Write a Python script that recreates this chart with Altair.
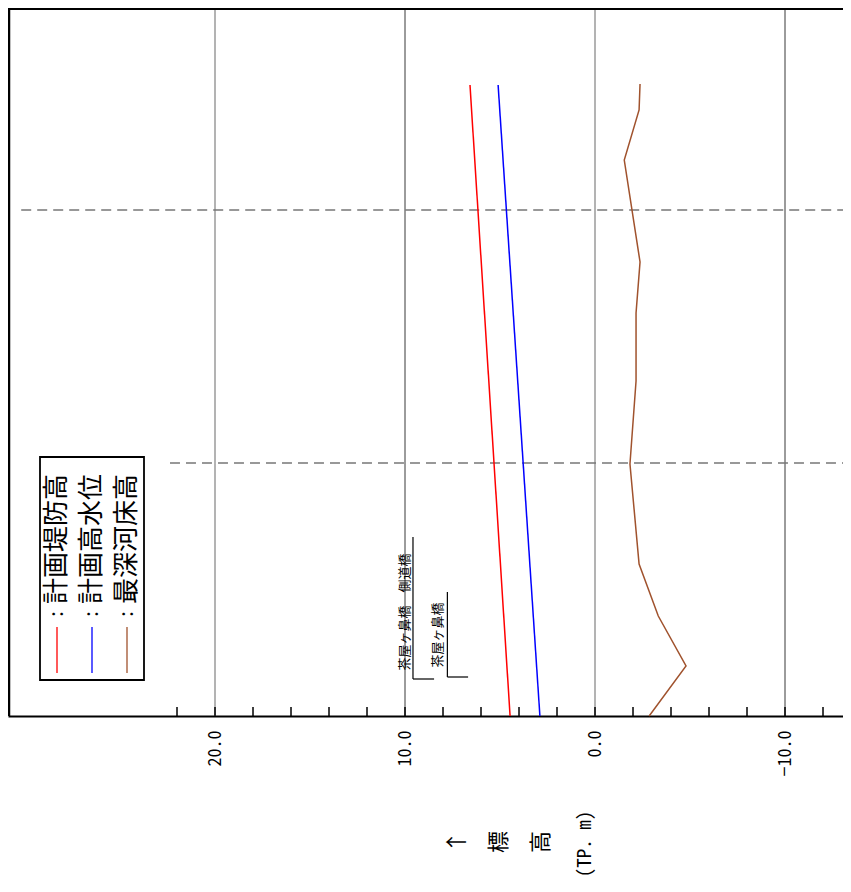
import altair as alt
import pandas as pd

# ---------------- data ----------------
dike_dist = [0.0, 3.155]
dike_elev = [4.47, 6.58]          # 計画堤防高
hwl_dist = [0.0, 3.155]
hwl_elev = [2.90, 5.10]           # 計画高水位
bed_dist = [0.0, 0.25, 0.50, 0.76, 1.26, 1.675, 2.015, 2.27, 2.78, 3.03, 3.16]
bed_elev = [-2.85, -4.79, -3.33, -2.32, -1.84, -2.16, -2.16, -2.37, -1.54, -2.32, -2.37]  # 最深河床高

section_dist = [2.53, 1.265]
section_start = [30.2, 22.37]

grid_light = [20.0, 0.0]
grid_dark = [10.0, -10.0]
tick_values = [22, 20, 18, 16, 14, 12, 10, 8, 6, 4, 2, 0, -2, -4, -6, -8, -10, -12]
label_values = [20.0, 10.0, 0.0, -10.0]

bridge_names = ["茶屋ヶ鼻橋　側道橋", "茶屋ヶ鼻橋"]
bridge_text_v = [10.0, 8.24]
bridge_text_d = [0.52, 0.405]
bridge_bar_v = [9.58, 7.77]
bridge_bar_top = [0.895, 0.62]
bridge_foot_d = [0.185, 0.195]
bridge_foot_end = [8.47, 6.68]

legend_labels = ["計画堤防高", "計画高水位", "最深河床高"]
legend_colors = ["#ff0000", "#0000ff", "#a0522d"]
title_parts = ["↑", "標", "高", "(TP. m)"]

# ---------------- layout ----------------
W, H = 835, 708
PAD_B = 160
V_LEFT = 30.895
V_RIGHT = V_LEFT - W / 19.0
CJK = "Noto Sans CJK JP"
MONO = "'Noto Sans Mono CJK JP', 'DejaVu Sans Mono', monospace"

xs = alt.Scale(domain=[V_RIGHT, V_LEFT], reverse=True, nice=False, zero=False)
ys = alt.Scale(domain=[0, 3.54], nice=False, zero=False)
xaxis = alt.Axis(values=label_values, format=".1f", labelAngle=270, labelFont=MONO,
                 labelFontSize=18, labelPadding=14, ticks=False, grid=False,
                 domainColor="black", domainWidth=2, labelColor="black", title=None)


def X(f="v"):
    return alt.X(f"{f}:Q", scale=xs, axis=xaxis)


def Y(f="d"):
    return alt.Y(f"{f}:Q", scale=ys, axis=None)


one = pd.DataFrame({"k": [0]})
layers = []

# grid lines
layers.append(alt.Chart(pd.DataFrame({"v": grid_light})).mark_rule(color="#9a9a9a", strokeWidth=1.5)
              .encode(x=X(), y=alt.value(0), y2=alt.value(H)))
layers.append(alt.Chart(pd.DataFrame({"v": grid_dark})).mark_rule(color="#222222", strokeWidth=0.9)
              .encode(x=X(), y=alt.value(0), y2=alt.value(H)))

# section dashed lines
sec = pd.DataFrame({"d": section_dist, "v": section_start, "v2": [V_RIGHT] * len(section_dist)})
layers.append(alt.Chart(sec).mark_rule(color="#777777", strokeWidth=1.3, strokeDash=[10, 6])
              .encode(x=X(), x2="v2:Q", y=Y()))

# profile lines
dike = pd.DataFrame({"d": dike_dist, "v": dike_elev})
hwl = pd.DataFrame({"d": hwl_dist, "v": hwl_elev})
bed = pd.DataFrame({"d": bed_dist, "v": bed_elev})
for df, col in [(dike, legend_colors[0]), (hwl, legend_colors[1]), (bed, legend_colors[2])]:
    layers.append(alt.Chart(df).mark_line(color=col, strokeWidth=1.5)
                  .encode(x=X(), y=Y(), order="d:Q"))

# bridge annotations
br = pd.DataFrame({"name": bridge_names, "tv": bridge_text_v, "td": bridge_text_d,
                   "v": bridge_bar_v, "top": bridge_bar_top, "d": bridge_foot_d,
                   "v2": bridge_foot_end})
layers.append(alt.Chart(br).mark_rule(color="black", strokeWidth=1.2)
              .encode(x=X(), y=Y(), y2="top:Q"))
layers.append(alt.Chart(br).mark_rule(color="black", strokeWidth=1.2)
              .encode(x=X(), x2="v2:Q", y=Y()))
layers.append(alt.Chart(br).mark_text(angle=270, align="center", baseline="middle",
                                      font=CJK, fontSize=13, color="black")
              .encode(x=X("tv"), y=Y("td"), text="name:N"))

# inward ticks
layers.append(alt.Chart(pd.DataFrame({"v": tick_values})).mark_rule(color="black", strokeWidth=1.5)
              .encode(x=X(), y=alt.value(H - 9), y2=alt.value(H)))

# frame (top & left)
layers.append(alt.Chart(one).mark_rule(color="black", strokeWidth=2.5)
              .encode(x=alt.value(1), y=alt.value(0), y2=alt.value(H)))
layers.append(alt.Chart(one).mark_rule(color="black", strokeWidth=2)
              .encode(y=alt.value(1), x=alt.value(0), x2=alt.value(W)))

# legend
layers.append(alt.Chart(one).mark_rect(fill="white", stroke="black", strokeWidth=1.8)
              .encode(x=alt.value(32), x2=alt.value(136), y=alt.value(449), y2=alt.value(672)))
for i, (lab, col) in enumerate(zip(legend_labels, legend_colors)):
    cx = 49 + 35 * i
    layers.append(alt.Chart(one).mark_rule(color=col, strokeWidth=1.3)
                  .encode(x=alt.value(cx), y=alt.value(619), y2=alt.value(665)))
    layers.append(alt.Chart(one).mark_text(text=":", angle=270, align="center", baseline="middle",
                                           font=CJK, fontSize=20, color="black")
                  .encode(x=alt.value(cx), y=alt.value(606)))
    layers.append(alt.Chart(one).mark_text(text=lab, angle=270, align="left", baseline="middle",
                                           font=CJK, fontSize=26, color="black")
                  .encode(x=alt.value(cx), y=alt.value(596)))

# axis title pieces
title_pos = [(449, 834, 22, CJK), (491, 834, 22, CJK), (533, 834, 22, CJK), (577, 836, 19, MONO)]
for txt, (px, py, fs, fnt) in zip(title_parts, title_pos):
    layers.append(alt.Chart(one).mark_text(text=txt, angle=270, align="center", baseline="middle",
                                           font=fnt, fontSize=fs, color="black")
                  .encode(x=alt.value(px), y=alt.value(py)))

chart = alt.layer(*layers).properties(
    width=W, height=H,
    padding={"left": 0, "top": 0, "right": 0, "bottom": PAD_B},
    autosize=alt.AutoSizeParams(type="none"),
    background="white",
).configure_view(strokeWidth=0)

chart.save("out.html", embed_options={"renderer": "svg", "actions": False})
